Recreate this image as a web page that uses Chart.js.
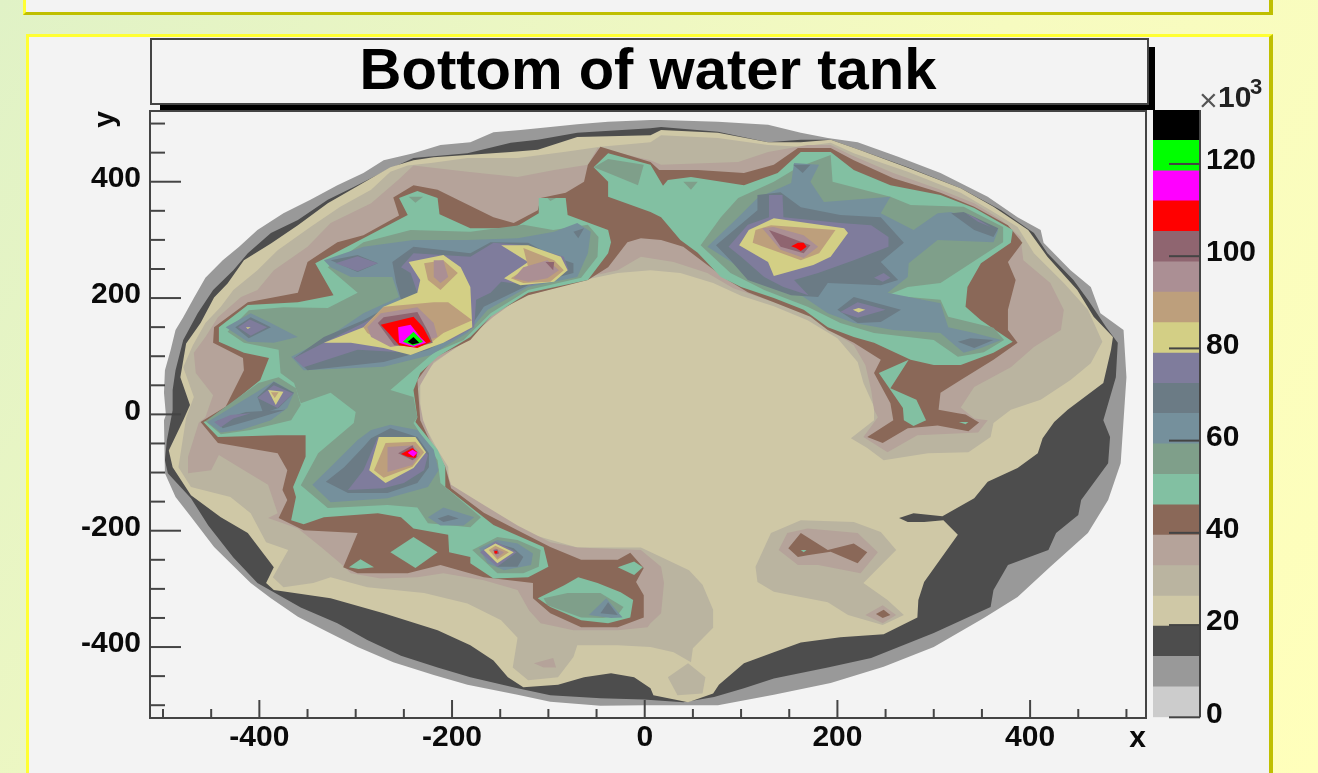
<!DOCTYPE html>
<html>
<head>
<meta charset="utf-8">
<title>Bottom of water tank</title>
<script src="https://cdn.jsdelivr.net/npm/chart.js@4"></script>
<style>
  html, body { margin: 0; padding: 0; width: 1318px; height: 773px; overflow: hidden; }
  body { background: linear-gradient(125deg, #e0f2c6 0%, #f6fbc0 55%, #ffffbb 100%); font-family: "Liberation Sans", sans-serif; position: relative; }
  .panel { position: absolute; box-sizing: border-box; background: #f3f3f3; border-style: solid; border-width: 3px 4px 3px 3px; border-color: #ffff33 #bfbf00 #bfbf00 #ffff33; }
  .abs { position: absolute; }
  canvas { position: absolute; filter: blur(0.5px); }
  #exp { left: 1200px; top: 76px; width: 70px; height: 40px; color: #222; filter: blur(0.4px); }
  #exp span { position: absolute; }
</style>
</head>
<body>
<div class="panel" style="left:23px;top:-10px;width:1250px;height:25px"></div>
<div class="panel" style="left:26px;top:34px;width:1247px;height:760px"></div>
<div class="abs" style="left:150px;top:38px;width:999px;height:67px;box-sizing:border-box;border:2px solid #444;background:#f3f3f3"></div>
<div class="abs" style="left:1149px;top:47px;width:6px;height:63px;background:#000"></div>
<div class="abs" style="left:160px;top:105px;width:995px;height:5px;background:#000"></div>
<canvas id="plot" width="1318" height="773" style="left:0;top:0"></canvas>
<canvas id="bar" width="178" height="683" style="left:1140px;top:90px"></canvas>
<div id="exp" class="abs">
  <span style="left:-1px;top:8px;font-size:32px;line-height:32px;color:#555">×</span>
  <span style="left:18px;top:6px;font-size:30px;font-weight:bold;line-height:30px">10</span>
  <span style="left:50px;top:0;font-size:22px;font-weight:bold;line-height:22px">3</span>
</div>
<script>
function $(id) {
  return document.getElementById(id);
}

const titleText = "Bottom of water tank";
const xTicks = [-400, -200, 0, 200, 400];
const yTicks = [-400, -200, 0, 200, 400];
const minorTicks = [-500, -450, -350, -300, -250, -150, -100, -50, 50, 100, 150, 250, 300, 350, 450, 500];
const zTicks = [0, 20, 40, 60, 80, 100, 120];
const zEdges = [0, 6.6, 13.2, 19.8, 26.3, 32.9, 39.5, 46.1, 52.7, 59.3, 65.9, 72.4, 79, 85.6, 92.2, 98.8, 105.4, 112, 118.5, 125.1, 131.7];
const bandColors = ["#cccccc", "#999999", "#4d4d4d", "#cfc8a6", "#bab4a0", "#b5a39a", "#8a6858", "#82c0a2", "#7f9f8a", "#75909c", "#6b7b85", "#7f7c9c", "#d3cf85", "#bd9f7c", "#ab8f94", "#8f6570", "#ff0000", "#ff00ff", "#00ff00", "#000000"];

// contours, x,y pairs, each band painted over the one before
const band1 = [[6,506,-38,503,-70,499,-98,494,-129,489,-157,485,-181,468,-212,463,-240,449,-271,437,-292,415,-319,394,-347,369,-375,346,-402,317,-421,288,-438,265,-456,235,-468,200,-479,167,-487,145,-492,111,-498,76,-499,37,-497,-1,-499,-10,-498,-101,-487,-142,-471,-176,-447,-228,-409,-290,-388,-316,-360,-348,-329,-374,-298,-400,-261,-426,-219,-448,-184,-465,-132,-482,-98,-494,-46,-501,-1,-500,17,-500,76,-500,134,-482,193,-462,248,-434,300,-400,352,-350,387,-314,421,-262,460,-204,481,-147,494,-84,497,-10,500,64,497,145,473,174,463,219,442,248,414,295,411,317,387,339,356,374,307,415,263,443,221,468,190,475,162,484,128,498,76,503,17,506]];
const band2 = [[6,492,-70,484,-111,472,-139,467,-184,449,-240,441,-271,417,-302,391,-329,369,-360,334,-388,312,-412,277,-427,248,-448,214,-464,174,-479,128,-487,76,-490,42,-490,7,-496,-45,-498,-79,-495,-101,-471,-144,-453,-191,-427,-246,-402,-290,-385,-306,-357,-332,-319,-359,-288,-388,-253,-415,-215,-435,-181,-452,-132,-471,-98,-483,-46,-488,-1,-490,40,-495,72,-486,103,-471,134,-454,190,-435,235,-419,300,-376,359,-331,362,-302,377,-259,419,-233,427,-204,450,-173,453,-147,481,-84,483,-39,476,-10,489,64,491,123,479,150,460,197,445,231,418,277,404,312,370,351,328,389,273,425,224,454,193,472,162,472,128,468,76,486,17,494]];
const band3 = [[6,480,-70,477,-111,455,-139,451,-219,442,-240,437,-264,425,-329,363,-360,325,-388,294,-416,265,-433,225,-447,201,-461,157,-476,122,-482,64,-472,16,-479,-10,-494,-62,-490,-91,-471,-139,-440,-177,-412,-204,-385,-263,-393,-290,-385,-302,-326,-316,-271,-342,-215,-371,-181,-397,-157,-423,-142,-452,-126,-469,-90,-465,-63,-452,-35,-445,-11,-452,6,-471,9,-483,45,-495,71,-480,77,-465,103,-428,134,-409,162,-392,203,-383,248,-378,283,-349,284,-319,290,-288,325,-207,310,-182,290,-185,273,-185,264,-178,279,-170,309,-175,342,-144,356,-116,387,-92,408,-67,413,-41,425,-13,439,8,476,54,484,111,486,133,466,168,449,214,418,271,398,317,362,357,328,389,273,424,224,454,193,472,162,468,128,468,76,484,17,489]];
const band4 = [
  [6,468,-46,460,-84,451,-132,441,-184,441,-222,432,-246,428,-264,417,-284,386,-316,357,-347,322,-381,282,-402,248,-427,214,-440,185,-456,157,-469,119,-479,81,-468,30,-476,-6,-484,-91,-471,-125,-430,-142,-409,-170,-393,-220,-370,-233,-386,-280,-375,-297,-344,-290,-326,-280,-288,-297,-229,-307,-184,-325,-149,-354,-132,-384,-137,-435,-121,-457,-90,-452,-74,-417,-70,-397,-28,-397,6,-400,30,-409,48,-426,50,-402,71,-367,71,-336,60,-293,46,-268,17,-245,-4,-229,-70,-229,-126,-202,-167,-159,-203,-121,-204,-90,-215,-61,-230,-15,-233,8,-233,59,-219,88,-181,133,-157,174,-121,205,-63,231,-28,243,6,248,37,243,71,226,100,204,134,186,169,162,200,131,221,90,227,54,238,13,238,-10,214,-41,231,-58,248,-79,294,-67,336,-65,359,-39,362,-15,380,8,411,25,442,59,463,88,475,125,460,180,435,226,404,277,387,322,359,351,328,381,273,417,217,449,193,467,162,460,128,463,76,475,17,480],
  [24,-452,45,-428,63,-452,60,-480,34,-483],
  [115,-262,131,-204,162,-182,217,-185,245,-202,261,-233,227,-290,252,-319,269,-345,247,-362,211,-345,190,-323,134,-305,117,-288]
];
const band5 = [
  [6,437,-49,458,-59,429,-94,420,-132,408,-184,417,-240,428,-256,403,-284,363,-326,329,-350,288,-385,248,-402,214,-419,202,-443,167,-456,133,-468,106,-466,71,-448,33,-456,-5,-463,-15,-474,-73,-474,-101,-450,-96,-442,-70,-416,-96,-391,-121,-381,-170,-391,-178,-360,-196,-336,-228,-316,-256,-305,-273,-274,-282,-236,-280,-209,-273,-167,-285,-132,-302,-120,-337,-108,-359,-74,-371,-28,-371,3,-366,6,-359,17,-342,20,-290,17,-262,-4,-233,-70,-229,-98,-220,-132,-191,-167,-156,-201,-121,-207,-90,-219,-56,-230,-10,-236,42,-219,90,-188,123,-157,168,-121,211,-63,235,-28,248,-4,271,30,262,65,243,92,217,134,193,165,176,193,145,217,119,229,85,235,42,238,8,242,-5,227,-39,252,-65,283,-36,346,-31,356,-10,342,-7,328,12,342,47,380,81,404,116,432,145,435,180,421,226,393,265,390,305,370,334,342,363,307,386,258,415,214,446,193,463,169,463,128,451,97,434,17,429],
  [139,-233,148,-204,169,-196,221,-204,242,-237,224,-273,180,-259,159,-259],
  [229,-345,247,-328,261,-345,247,-359],
  [-115,-428,-95,-419,-92,-435,-105,-435]
];
const band6 = [
  [6,434,15,420,55,420,103,415,134,429,159,458,193,458,217,437,258,406,307,381,342,357,377,325,392,295,377,262,385,231,377,180,377,145,387,123,362,94,328,59,307,37,305,8,325,2,333,0,347,-14,336,-29,304,-19,273,-24,247,-49,231,-39,258,-10,255,19,238,71,245,94,217,123,190,145,172,168,134,193,107,210,86,231,65,257,40,288,17,300,-4,303,-18,296,-38,253,-59,231,-121,205,-157,174,-181,128,-219,97,-236,59,-233,-10,-222,-49,-207,-90,-201,-127,-167,-169,-132,-199,-98,-228,-66,-250,-28,-250,-15,-238,-1,-264,-9,-288,-1,-311,-1,-349,-28,-366,-66,-366,-98,-342,-116,-316,-116,-290,-167,-280,-212,-259,-246,-273,-298,-273,-313,-263,-298,-204,-354,-199,-380,-178,-371,-147,-376,-130,-371,-96,-381,-67,-443,-49,-461,-13,-435,13,-416,76,-417,97,-448,123,-447,150,-412,193,-360,209,-350,262,-319,296,-292,308,-255,342,-261,373,-240,394,-215,386,-194,369,-157,339,-136,329,-111,351,-108,372,-82,381,-63,400,-59,429,-46,460],
  [149,-230,162,-204,190,-233,217,-222,231,-237,221,-256,193,-236,169,-242,159,-245],
  [240,-343,248,-336,255,-345,247,-350]
];
const band7 = [
  [-53,425,-38,449,6,429,19,393,24,403,48,408,103,394,138,415,162,451,193,451,217,420,255,394,307,377,342,355,382,317,380,295,349,260,335,219,333,185,349,162,382,125,362,106,328,85,300,85,276,94,238,123,217,133,190,150,165,180,134,200,100,219,79,236,55,278,37,300,17,339,6,348,-38,374,-38,400],
  [-110,372,-82,372,-80,343,-38,317,-35,296,-38,277,-59,231,-121,209,-160,168,-181,133,-215,99,-233,71,-240,42,-236,-5,-238,-13,-215,-61,-207,-90,-207,-125,-157,-190,-105,-228,-100,-262,-121,-280,-157,-282,-181,-256,-181,-245,-203,-237,-204,-207,-240,-196,-253,-177,-277,-170,-333,-177,-354,-189,-367,-182,-362,-142,-365,-125,-352,-73,-352,-36,-381,-36,-443,-39,-458,-13,-445,-5,-435,11,-399,59,-390,97,-416,106,-442,125,-442,150,-412,188,-360,193,-323,205,-342,260,-292,303,-246,343,-255,372,-236,384,-215,372,-213,344,-181,320,-136,320,-110,346],
  [-264,-237,-240,-211,-215,-237,-238,-264],
  [-307,-263,-295,-249,-281,-263,-297,-266],
  [-28,-263,-11,-253,-2,-263,-11,-276],
  [-111,-316,-84,-294,-69,-280,-49,-290,-25,-306,-12,-319,-15,-349,-38,-359,-66,-354,-98,-331],
  [243,71,274,94,255,45,282,25,292,-10,279,-20,269,-10,268,11],
  [326,-13,336,-13,333,-17],
  [162,-233,168,-233,165,-237]
];
const band8 = [
  [-95,317,-59,326,-48,305,-49,271,-66,235,-121,214,-160,174,-188,128,-219,106,-264,42,-240,30,-236,-5,-240,-15,-215,-79,-212,-118,-170,-177,-181,-194,-225,-187,-236,-160,-267,-156,-329,-161,-357,-122,-339,-67,-302,-15,-300,4,-326,37,-357,19,-364,54,-378,71,-380,111,-416,123,-433,142,-411,179,-375,184,-329,183,-298,209,-329,253,-292,296,-243,317,-181,314,-126,326],
  [-456,-12,-401,54,-380,64,-362,45,-357,16,-367,-10,-409,-27,-440,-34],
  [97,372,134,400,159,425,193,446,195,400,255,374,276,360,331,357,372,322,372,296,307,226,273,219,252,205,307,197,315,168,362,149,373,128,352,107,325,99,300,128,238,140,203,157,169,185,124,214,89,243,58,291,79,339],
  [-53,425,-38,439,-1,429,-7,394,-38,415],
  [-105,-316,-80,-307,-46,-307,-22,-331,-28,-345,-43,-350,-66,-349,-101,-328],
  [-179,-233,-153,-211,-132,-216,-108,-233,-110,-262,-126,-273,-153,-273],
  [40,400,55,400,48,386],
  [-245,374,-230,374,-238,364],
  [-101,372,-92,372,-98,367]
];
const band9 = [
  [-333,265,-292,288,-240,300,-184,300,-132,303,-94,314,-70,329,-56,314,-59,277,-70,236,-121,219,-163,180,-184,140,-222,102,-271,82,-354,76,-367,99,-333,128,-292,174,-255,202,-262,236,-305,236,-326,253],
  [-435,150,-409,174,-388,157,-360,133,-385,123,-412,125],
  [-454,-13,-404,37,-385,57,-364,37,-371,11,-388,-10,-419,-27,-440,-31],
  [-345,-121,-324,-87,-298,-44,-284,-27,-264,-18,-236,-27,-219,-61,-214,-96,-225,-125,-267,-144,-326,-151],
  [-225,-177,-209,-160,-177,-177,-188,-191,-212,-191],
  [-172,-230,-153,-216,-132,-222,-116,-239,-118,-259,-146,-268,-163,-256],
  [-58,-345,-40,-316,-23,-349,-35,-350],
  [65,288,97,339,117,372,152,398,155,432,181,429,172,400,186,365,255,374,245,346,279,317,304,346,318,348,367,317,362,296,304,300,274,260,273,236,252,209,307,191,315,150,342,140,370,128,349,114,331,106,307,140,258,145,217,157,190,174,165,202,128,236,92,260]
];
const band10 = [
  [74,291,117,351,117,377,141,382,162,356,203,343,245,339,269,295,245,262,263,231,245,222,190,226,180,202,152,205,107,231,89,265],
  [200,180,217,202,266,180,245,159,221,157],
  [154,429,172,429,164,415],
  [318,346,331,348,367,320,362,305,342,317],
  [325,125,338,131,362,128,342,114],
  [-262,262,-240,288,-181,277,-160,296,-121,295,-94,271,-74,260,-74,243,-121,222,-167,185,-181,150,-225,111,-271,90,-350,76,-364,97,-333,133,-292,162,-253,197,-258,226],
  [-326,265,-298,274,-277,260,-298,245],
  [-425,150,-409,167,-388,150,-411,131],
  [-74,314,-63,320,-69,303],
  [-402,30,-385,56,-364,37,-380,11,-396,2],
  [-445,-12,-414,4,-373,8,-409,-10,-438,-24],
  [-331,-116,-312,-91,-292,-56,-284,-41,-264,-24,-236,-39,-224,-67,-224,-91,-236,-118,-267,-135,-308,-135],
  [-215,-179,-204,-173,-193,-179,-209,-185],
  [-167,-233,-153,-222,-136,-230,-126,-245,-132,-262,-153,-262],
  [-46,-342,-38,-323,-28,-345]
];
const band11 = [
  [87,288,107,326,129,339,129,377,143,377,144,339,203,329,235,325,253,305,253,288,217,265,180,243,155,231,170,205,144,219,124,236,100,271],
  [203,176,221,193,250,180,221,166],
  [238,235,248,243,255,235,247,228],
  [333,346,342,339,359,322,346,331],
  [-253,253,-240,277,-181,271,-157,295,-124,291,-84,271,-79,248,-118,222,-149,228,-160,209,-175,197,-177,150,-201,128,-243,106,-298,111,-354,81,-364,97,-333,123,-292,157,-236,209,-243,243],
  [-321,260,-298,272,-277,260,-298,246],
  [-422,150,-410,163,-392,150,-409,135],
  [-402,28,-385,50,-365,36,-381,11],
  [-308,-130,-292,-96,-277,-39,-240,-41,-225,-70,-229,-96,-250,-118,-271,-127],
  [-447,-13,-430,-1,-409,2,-427,-7,-440,-22],
  [-171,-237,-155,-218,-133,-237,-153,-262]
];
const band12 = [
  [98,291,108,317,134,337,207,320,211,312,193,271,175,257,134,238,128,262],
  [216,180,222,183,229,180,222,175],
  [-333,123,-292,150,-271,185,-236,209,-233,231,-245,262,-209,274,-191,253,-181,219,-179,150,-209,123,-243,102,-271,114,-305,123],
  [-149,291,-121,291,-87,271,-80,248,-94,228,-129,222,-146,234,-121,262],
  [-391,42,-375,39,-383,16],
  [-414,150,-409,150,-412,147],
  [-286,-96,-276,-39,-238,-39,-227,-65,-240,-92,-269,-118],
  [-167,-233,-155,-222,-136,-237,-153,-256]
];
const band13 = [
  [112,295,115,317,131,325,198,317,181,277,162,265],
  [-292,150,-271,185,-219,193,-204,193,-179,162,-209,140,-222,123,-271,123,-288,140],
  [-229,260,-209,265,-194,243,-212,214,-225,231],
  [-139,234,-121,253,-126,286,-94,265,-84,248,-98,228,-126,226],
  [-388,38,-380,38,-384,28],
  [-269,-49,-238,-47,-229,-65,-241,-90,-271,-109,-281,-96],
  [-162,-233,-155,-226,-141,-237,-153,-250]
];
const band14 = [
  [122,320,134,322,165,308,180,288,165,269,141,283],
  [-288,150,-274,174,-236,184,-219,157,-215,133,-236,123,-264,116,-284,133],
  [-219,265,-209,265,-204,236,-212,226,-219,236],
  [-126,253,-101,265,-89,248,-101,234,-121,228,-136,234],
  [-267,-99,-267,-56,-240,-53,-233,-67,-241,-87],
  [-158,-233,-155,-230,-146,-237,-153,-247]
];
const band15 = [
  [129,317,144,308,172,291,165,277,141,288],
  [-277,157,-271,167,-236,176,-224,140,-220,123,-236,116,-260,119],
  [-103,262,-94,262,-95,248],
  [-256,-67,-241,-53,-236,-73,-241,-79],
  [-157,-233,-153,-232,-151,-239,-155,-241]
];
const band16 = [
  [152,289,159,295,165,295,168,288,162,281,157,286],
  [-274,154,-240,168,-230,150,-222,125,-236,114,-255,119,-266,140],
  [-253,-68,-241,-58,-236,-65,-238,-75,-246,-73],
  [-156,-235,-153,-235,-153,-239,-156,-239]
];
const band17 = [
  [-256,150,-243,154,-233,133,-227,123,-240,116,-255,123],
  [-246,-66,-241,-61,-236,-66,-240,-73]
];
const band18 = [[-251,125,-240,142,-230,125,-240,118]];
const band19 = [[-246,125,-240,133,-234,123,-241,120]];

const bands = [null, band1, band2, band3, band4, band5, band6, band7, band8, band9, band10, band11, band12, band13, band14, band15, band16, band17, band18, band19];

function toPoints(flat) {
  const pts = [];
  for (let i = 0; i < flat.length; i += 2) {
    pts.push({ x: flat[i], y: flat[i + 1] });
  }
  return pts;
}

const datasets = [];
bands.forEach((polys, level) => {
  if (!polys) return;
  polys.forEach((flat) => {
    datasets.push({
      data: toPoints(flat),
      showLine: true,
      fill: "shape",
      backgroundColor: bandColors[level],
      borderWidth: 0,
      pointRadius: 0,
      tension: 0,
    });
  });
});
// chart.js paints the highest order first
datasets.forEach((d, i) => (d.order = datasets.length - i));

const labelFont = { family: "Liberation Sans", weight: "bold", size: 30 };
const inkColor = "#0a0a0a";
const axisColor = "#444";

const plotMarks = {
  id: "plotMarks",
  afterDatasetsDraw(chart) {
    const { ctx, chartArea: a, scales } = chart;
    ctx.save();
    ctx.strokeStyle = axisColor;
    ctx.lineWidth = 2;
    ctx.strokeRect(a.left, a.top, a.right - a.left, a.bottom - a.top);
    const mark = (scale, v, len) => {
      const p = scale.getPixelForValue(v);
      ctx.beginPath();
      if (scale.isHorizontal()) {
        ctx.moveTo(p, a.bottom);
        ctx.lineTo(p, a.bottom - len);
      } else {
        ctx.moveTo(a.left, p);
        ctx.lineTo(a.left + len, p);
      }
      ctx.stroke();
    };
    xTicks.forEach((v) => mark(scales.x, v, 18));
    minorTicks.forEach((v) => mark(scales.x, v, 9));
    yTicks.forEach((v) => mark(scales.y, v, 31));
    minorTicks.forEach((v) => mark(scales.y, v, 15));
    ctx.restore();
  },
};

new Chart($("plot"), {
  type: "scatter",
  data: { datasets },
  options: {
    responsive: false,
    animation: false,
    events: [],
    layout: { padding: { left: 0, top: 0, right: 172, bottom: 0 } },
    plugins: {
      legend: { display: false },
      tooltip: { enabled: false },
      title: {
        display: true,
        text: titleText,
        fullSize: false,
        color: "#000",
        font: { family: "Liberation Sans", weight: "bold", size: 58, lineHeight: 1 },
        padding: { top: 44, bottom: 9 },
      },
    },
    scales: {
      x: {
        type: "linear",
        min: -513.5,
        max: 520.3,
        grid: { display: false, drawTicks: false },
        border: { display: false },
        afterBuildTicks: (s) => (s.ticks = xTicks.map((value) => ({ value }))),
        afterFit: (s) => (s.height = 55),
        ticks: { font: labelFont, color: inkColor, padding: 2, maxRotation: 0, autoSkip: false },
        title: { display: true, text: "x", align: "end", color: inkColor, font: labelFont, padding: { top: 0, bottom: 16 } },
      },
      y: {
        type: "linear",
        min: -522,
        max: 521.6,
        grid: { display: false, drawTicks: false },
        border: { display: false },
        afterBuildTicks: (s) => (s.ticks = yTicks.map((value) => ({ value }))),
        afterFit: (s) => (s.width = 150),
        ticks: { font: labelFont, color: inkColor, padding: 9, labelOffset: -3, autoSkip: false },
        title: { display: true, text: "y", align: "end", color: inkColor, font: labelFont, padding: { top: 88, bottom: 0 } },
      },
    },
  },
  plugins: [plotMarks],
});

const barMarks = {
  id: "barMarks",
  afterDatasetsDraw(chart) {
    const { ctx, chartArea: a, scales } = chart;
    ctx.save();
    ctx.strokeStyle = axisColor;
    ctx.lineWidth = 2;
    ctx.beginPath();
    ctx.moveTo(a.right, a.top);
    ctx.lineTo(a.right, a.bottom);
    ctx.stroke();
    zTicks.forEach((v) => {
      const p = scales.y.getPixelForValue(v);
      ctx.beginPath();
      ctx.moveTo(a.right, p);
      ctx.lineTo(a.right - 31, p);
      ctx.stroke();
    });
    ctx.restore();
  },
};

new Chart($("bar"), {
  type: "bar",
  data: {
    labels: ["z"],
    datasets: bandColors.map((c, i) => ({
      data: [[zEdges[i], zEdges[i + 1]]],
      backgroundColor: c,
      grouped: false,
      barPercentage: 1,
      categoryPercentage: 1,
    })),
  },
  options: {
    responsive: false,
    animation: false,
    events: [],
    layout: { padding: { left: 13, top: 20, right: 0, bottom: 55.7 } },
    plugins: { legend: { display: false }, tooltip: { enabled: false } },
    scales: {
      x: { display: false },
      y: {
        position: "right",
        min: 0,
        max: 131.7,
        grid: { display: false, drawTicks: false },
        border: { display: false },
        afterBuildTicks: (s) => (s.ticks = zTicks.map((value) => ({ value }))),
        afterFit: (s) => {
          s.width = 118;
          s.paddingTop = 0;
          s.paddingBottom = 0;
        },
        ticks: { font: labelFont, color: inkColor, padding: 6, labelOffset: -3, autoSkip: false },
      },
    },
  },
  plugins: [barMarks],
});
</script>
</body>
</html>
